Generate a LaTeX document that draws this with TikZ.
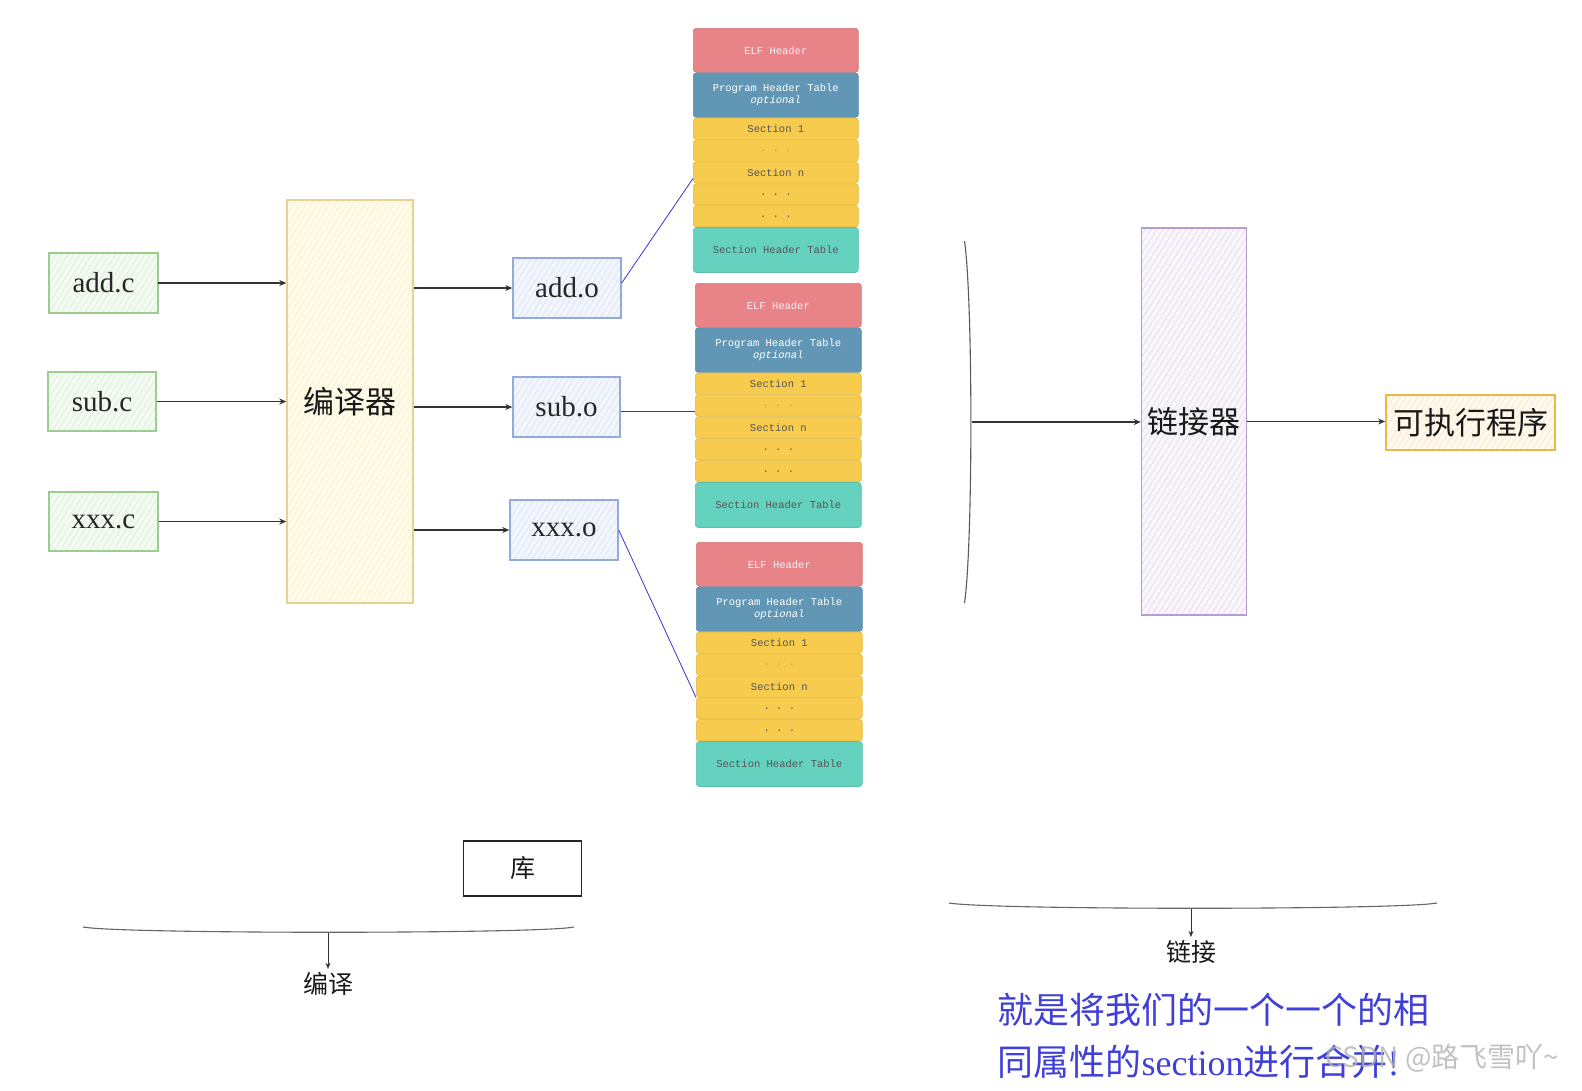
\documentclass[tikz,border=0pt]{standalone}
\usepackage{fontspec}
\setmainfont{Liberation Serif}
\setmonofont{Liberation Mono}
\newfontfamily\cjk{Noto Sans CJK SC}
\usetikzlibrary{arrows.meta,patterns.meta}
\definecolor{gBorder}{HTML}{9CCC8F}
\definecolor{gFill}{HTML}{F3FAF1}
\definecolor{gHach}{HTML}{DCEFD6}
\definecolor{yBorder}{HTML}{E8D290}
\definecolor{yFill}{HTML}{FFFBEA}
\definecolor{yHach}{HTML}{FAEFC9}
\definecolor{bBorder}{HTML}{92ABDA}
\definecolor{bFill}{HTML}{F2F6FC}
\definecolor{bHach}{HTML}{DAE4F5}
\definecolor{pBorder}{HTML}{B89BD0}
\definecolor{pFill}{HTML}{F8F6FA}
\definecolor{pHach}{HTML}{E4DDEC}
\definecolor{oBorder}{HTML}{E8B94A}
\definecolor{oFill}{HTML}{FFF9EE}
\definecolor{oHach}{HTML}{FBE6C8}
\definecolor{elfPink}{HTML}{E88388}
\definecolor{elfBlue}{HTML}{6197B5}
\definecolor{elfYellow}{HTML}{F7CB4D}
\definecolor{elfTeal}{HTML}{65D2BF}
\definecolor{arrGray}{HTML}{333333}
\definecolor{lineBlue}{HTML}{3535D5}
\definecolor{textBlue}{HTML}{4040D8}
\definecolor{secText}{HTML}{555555}

\newcommand\elfstack[4]{%
  \pgfmathsetmacro\stw{#3-#2}%
  \node[elfblk, fill=elfPink, draw=elfPink!90!black, text=white!95!black, minimum width=\stw pt, minimum height=44pt] (#1elf) at (#2,#4) {ELF Header};
  \node[elfblk, fill=elfBlue, draw=elfBlue!90!black, text=white, align=center, minimum width=\stw pt, minimum height=44.5pt] (#1pht) at (#1elf.south west) {Program Header Table\\\textit{optional}};
  \node[elfblk, secblk, minimum width=\stw pt] (#1s1) at (#1pht.south west) {Section 1};
  \node[elfblk, secblk, minimum width=\stw pt, text=secText!35!elfYellow] (#1d1) at (#1s1.south west) {.\ .\ .};
  \node[elfblk, secblk, minimum width=\stw pt] (#1n) at (#1d1.south west) {Section n};
  \node[elfblk, secblk, minimum width=\stw pt] (#1d2) at (#1n.south west) {.\ .\ .};
  \node[elfblk, secblk, minimum width=\stw pt] (#1d3) at (#1d2.south west) {.\ .\ .};
  \node[elfblk, fill=elfTeal, draw=elfTeal!90!black, text=secText, minimum width=\stw pt, minimum height=45pt] (#1sht) at (#1d3.south west) {Section Header Table};
}

\begin{document}
\begin{tikzpicture}[x=1pt,y=-1pt,
  hach/.style n args={3}{draw=#1, line width=1.4pt, preaction={fill=#2},
     pattern={Lines[angle=58,distance=5pt,line width=0.7pt]}, pattern color=#3,
     inner sep=0pt},
  lbl/.style={font=\fontsize{29}{31}\selectfont, text=black!85},
  cjkbig/.style={font=\cjk\fontsize{31}{33}\selectfont, text=black!90},
  cjkmid/.style={font=\cjk\fontsize{25}{27}\selectfont, text=black!90},
  arr/.style={draw=arrGray, line width=1.3pt, -{Stealth[length=7pt,width=6pt]}},
  thinarr/.style={draw=arrGray, line width=1pt, -{Stealth[length=6pt,width=5pt]}},
  bl/.style={draw=lineBlue, line width=0.8pt},
  elfblk/.style={rounded corners=3pt, inner sep=0pt, anchor=north west, line width=0.6pt,
     font=\ttfamily\fontsize{10.5}{12}\selectfont},
  secblk/.style={fill=elfYellow, draw=elfYellow!90!black, text=secText, minimum height=21.3pt},
  bluetext/.style={text=textBlue, anchor=west, font=\cjk\fontsize{36}{38}\selectfont}
]
\useasboundingbox (0,0) rectangle (1582,1090);

% source files
\node[hach={gBorder}{gFill}{gHach}, lbl, minimum width=109pt, minimum height=60pt] (addc) at (103.5,283) {add.c};
\node[hach={gBorder}{gFill}{gHach}, lbl, minimum width=108pt, minimum height=59pt] (subc) at (102,401.5) {sub.c};
\node[hach={gBorder}{gFill}{gHach}, lbl, minimum width=109pt, minimum height=59pt] (xxxc) at (103.5,521.5) {xxx.c};

% compiler
\node[hach={yBorder}{yFill}{yHach}, cjkbig, minimum width=126pt, minimum height=403pt] (comp) at (350,401.5) {编译器};

% object files
\node[hach={bBorder}{bFill}{bHach}, lbl, minimum width=108pt, minimum height=60pt] (addo) at (567,288) {add.o};
\node[hach={bBorder}{bFill}{bHach}, lbl, minimum width=107pt, minimum height=60pt] (subo) at (566.5,407) {sub.o};
\node[hach={bBorder}{bFill}{bHach}, lbl, minimum width=108pt, minimum height=60pt] (xxxo) at (564,530) {xxx.o};

% arrows source -> compiler -> objects
\draw[arr] (addc.east) -- (addc.east -| comp.west);
\draw[arr] (subc.east) -- (subc.east -| comp.west);
\draw[arr] (xxxc.east) -- (xxxc.east -| comp.west);
\draw[arr] (addo.west -| comp.east) -- (addo.west);
\draw[arr] (subo.west -| comp.east) -- (subo.west);
\draw[arr] (xxxo.west -| comp.east) -- (xxxo.west);

% ELF stacks
\elfstack{sa}{693}{858}{28}
\elfstack{sb}{695}{861}{283}
\elfstack{sc}{696}{862}{542}

% blue connectors
\draw[bl] ([yshift=5pt]addo.east) -- ([yshift=-6pt]san.west);
\draw[bl] ([yshift=-4pt]subo.east) -- ([yshift=-4pt]subo.east -| sbelf.west);
\draw[bl] (xxxo.east) -- (scn.south west);

% bracket and linker
\coordinate (btop) at (964.5,241);
\coordinate (bbot) at (964.5,603);
\coordinate (bmid) at (971.5,422);
\draw[draw=black!65, line width=1.1pt] (btop) .. controls (973,300) and (973,545) .. (bbot);
\node[hach={pBorder}{pFill}{pHach}, cjkbig, minimum width=105pt, minimum height=387pt] (linker) at (1194,421.5) {链接器};
\node[hach={oBorder}{oFill}{oHach}, line width=1.8pt, cjkbig, minimum width=169pt, minimum height=55pt] (exec) at (1470.5,422.5) {可执行程序};
\draw[arr] (bmid) -- (bmid -| linker.west);
\draw[arr] (linker.east) -- (linker.east -| exec.west);

% library
\node[draw=black!85, line width=1.3pt, fill=white, cjkmid, minimum width=118pt, minimum height=55pt] (lib) at (522.6,868.5) {库};

% compile brace
\coordinate (cl) at (83,927);
\coordinate (cr) at (574,927);
\coordinate (cm) at (328,932.5);
\draw[draw=black!60, line width=1.1pt] (cl) .. controls (120,934) and (540,934) .. (cr);
\node[cjkmid] (compl) at (328,984) {编译};
\draw[thinarr] (cm) -- (compl.north);

% link brace
\coordinate (ll) at (949,903);
\coordinate (lr) at (1437,903);
\coordinate (lm) at (1191,908.5);
\draw[draw=black!60, line width=1.1pt] (ll) .. controls (990,910) and (1400,910) .. (lr);
\node[cjkmid] (linkl) at (1191,952) {链接};
\draw[thinarr] (lm) -- (linkl.north);

% blue explanation
\node[bluetext] (exp1) at (994,1010) {就是将我们的一个一个的相};
\node[bluetext] (exp2) at (994,1062) {同属性的{\rmfamily section}进行合并{\rmfamily !}};

% watermark
\node[anchor=west, text=black!30, opacity=0.8, font=\cjk\fontsize{28}{30}\selectfont] (wm) at (1322,1058) {CSDN @路飞雪吖\textasciitilde};
\end{tikzpicture}
\end{document}
